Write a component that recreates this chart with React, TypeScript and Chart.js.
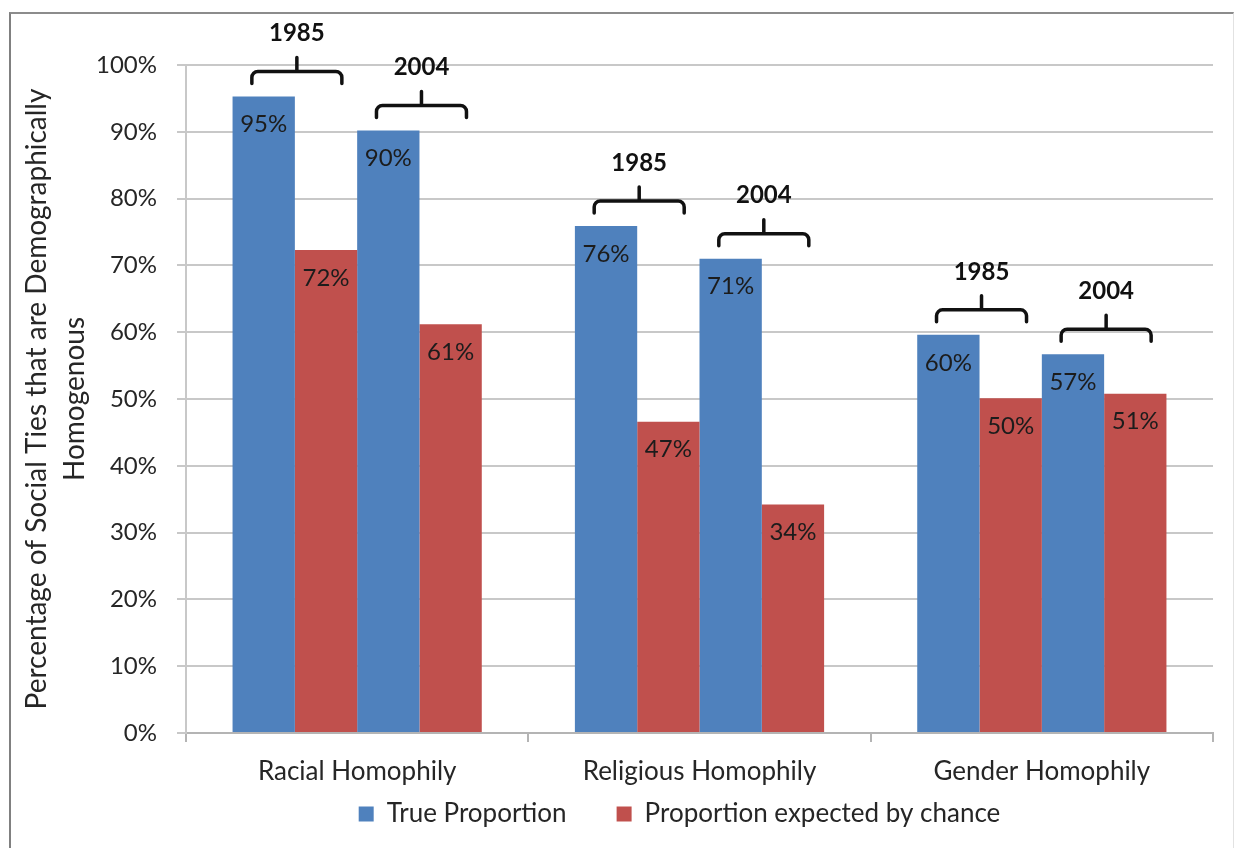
import React, { useEffect, useRef } from 'react';
import { Chart, registerables } from 'chart.js';

Chart.register(...registerables);

const categories = ['Racial Homophily', 'Religious Homophily', 'Gender Homophily'];
const years = ['1985', '2004'];
const seriesNames = ['True Proportion', 'Proportion expected by chance'];
const trueProportion1985 = [95.3, 75.9, 59.6];
const chance1985 = [72.3, 46.6, 50.1];
const trueProportion2004 = [90.2, 71.0, 56.7];
const chance2004 = [61.2, 34.2, 50.8];
const yTitle = ['Percentage of Social Ties that are Demographically', 'Homogenous'];

const BLUE = '#4F81BD';
const RED = '#C0504D';
const FONT = 'Lato';
const TEXT = '#262626';

const annotationPlugin = {
  id: 'barAnnotations',
  afterLayout(chart: any) {
    if (chart.legend) chart.legend.left -= 40;
  },
  afterDatasetsDraw(chart: any) {
    const ctx = chart.ctx as CanvasRenderingContext2D;
    ctx.save();
    ctx.textAlign = 'center';
    ctx.textBaseline = 'middle';
    ctx.font = `24px ${FONT}`;
    chart.data.datasets.forEach((ds: any, di: number) => {
      const meta = chart.getDatasetMeta(di);
      meta.data.forEach((bar: any, i: number) => {
        ctx.fillStyle = '#1c1c1c';
        ctx.fillText(Math.round(ds.data[i]) + '%', bar.x, bar.y + 28);
      });
    });
    for (let yi = 0; yi < years.length; yi++) {
      const mTrue = chart.getDatasetMeta(yi * 2);
      const mChance = chart.getDatasetMeta(yi * 2 + 1);
      mTrue.data.forEach((bar: any, i: number) => {
        const other = mChance.data[i];
        const cx = (bar.x + other.x) / 2 + 2;
        const top = Math.min(bar.y, other.y);
        const lineY = top - 25;
        const half = 45, drop = 12, r = 6, stub = 14;
        ctx.beginPath();
        ctx.moveTo(cx - half, lineY + drop);
        ctx.arcTo(cx - half, lineY, cx - half + r, lineY, r);
        ctx.lineTo(cx + half - r, lineY);
        ctx.arcTo(cx + half, lineY, cx + half, lineY + r, r);
        ctx.lineTo(cx + half, lineY + drop);
        ctx.moveTo(cx, lineY);
        ctx.lineTo(cx, lineY - stub);
        ctx.lineWidth = 3.5;
        ctx.strokeStyle = '#111';
        ctx.lineCap = 'round';
        ctx.lineJoin = 'round';
        ctx.stroke();
        ctx.fillStyle = '#111';
        ctx.font = `bold 24px ${FONT}`;
        ctx.fillText(years[yi], cx, lineY - 38);
      });
    }
    // category labels under the x axis
    const xs = chart.scales.x;
    ctx.font = `26px ${FONT}`;
    ctx.fillStyle = TEXT;
    (chart.data.labels as string[]).forEach((lab: string, i: number) => {
      ctx.fillText(lab, xs.getPixelForTick(i), xs.top + 39);
    });
    ctx.restore();
  },
};

export default function App() {
  const canvasRef = useRef<HTMLCanvasElement | null>(null);

  useEffect(() => {
    if (!canvasRef.current) return;
    const mk = (label: string, data: number[], color: string) => ({
      label,
      data,
      backgroundColor: color,
      borderWidth: 0,
      barPercentage: 1,
      categoryPercentage: 0.728,
    });
    const chart = new Chart(canvasRef.current, {
      type: 'bar',
      data: {
        labels: categories,
        datasets: [
          mk(seriesNames[0], trueProportion1985, BLUE),
          mk(seriesNames[1], chance1985, RED),
          mk(seriesNames[0], trueProportion2004, BLUE),
          mk(seriesNames[1], chance2004, RED),
        ],
      },
      options: {
        animation: false,
        responsive: true,
        maintainAspectRatio: false,
        layout: { padding: { top: 65, right: 21, left: 0, bottom: 11 } },
        plugins: {
          tooltip: { enabled: false },
          legend: {
            position: 'bottom',
            fullSize: false,
            labels: {
              filter: (item: any) => item.datasetIndex < 2,
              boxWidth: 15,
              boxHeight: 15,
              padding: 50,
              color: TEXT,
              font: { family: FONT, size: 26 },
            },
          },
        },
        scales: {
          x: {
            afterFit: (scale: any) => { scale.height = 18; },
            grid: {
              display: true,
              drawOnChartArea: false,
              drawTicks: true,
              tickLength: 9,
              color: '#b4b4b4',
              lineWidth: 2,
            },
            border: { display: true, color: '#b4b4b4', width: 2 },
            ticks: { display: false },
          },
          y: {
            min: 0,
            max: 100,
            afterFit: (scale: any) => { scale.width = 186; },
            ticks: {
              stepSize: 10,
              callback: (v: any) => v + '%',
              color: TEXT,
              font: { family: FONT, size: 24 },
              padding: 20,
            },
            grid: { color: '#c8c8c8', lineWidth: 2, tickLength: 9 },
            border: { display: true, color: '#c8c8c8', width: 2 },
            title: {
              display: true,
              text: yTitle,
              color: TEXT,
              font: { family: FONT, size: 28, lineHeight: 1.36 },
              padding: { top: 18, bottom: 0 },
            },
          },
        },
      },
      plugins: [annotationPlugin],
    });
    return () => chart.destroy();
  }, []);

  return (
    <div style={{ position: 'fixed', left: 0, top: 0, width: 1234, height: 848, overflow: 'hidden', background: '#fff' }}>
      <div
        style={{
          position: 'absolute', left: 9, top: 12, width: 1225, height: 836, boxSizing: 'border-box',
          borderTop: '2px solid #8c8c8c', borderLeft: '2px solid #808080', borderRight: '1px solid #e2e2e2',
        }}
      />
      <div style={{ position: 'absolute', left: 0, top: 0, width: 1234, height: 848 }}>
        <canvas ref={canvasRef} />
      </div>
    </div>
  );
}
